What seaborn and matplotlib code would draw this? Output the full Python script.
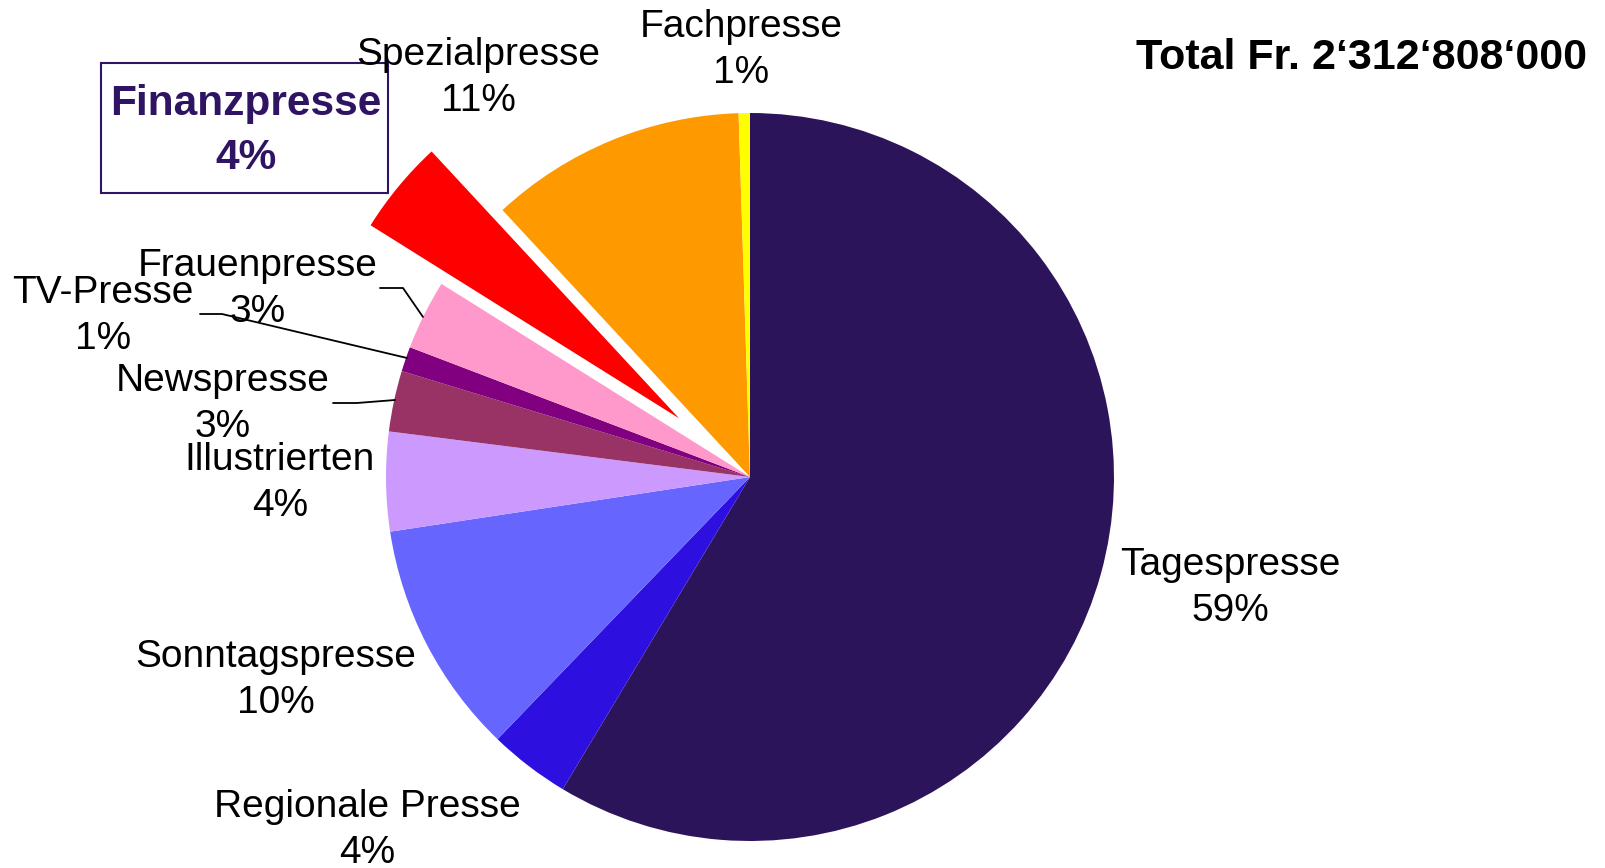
import matplotlib
matplotlib.use('Agg')
import matplotlib.pyplot as plt
import seaborn as sns
from matplotlib.patches import Rectangle

# Data (clockwise from 12 o'clock)
categories = ['Tagespresse', 'Regionale Presse', 'Sonntagspresse', 'Illustrierten',
              'Newspresse', 'TV-Presse', 'Frauenpresse', 'Finanzpresse',
              'Spezialpresse', 'Fachpresse']
shares = [58.6, 3.6, 10.4, 4.4, 2.7, 1.1, 3.1, 4.2, 11.4, 0.5]
pct_labels = ['59%', '4%', '10%', '4%', '3%', '1%', '3%', '4%', '11%', '1%']
colors = ['#2C145A', '#2D10E0', '#6666FF', '#CC99FF', '#993366',
          '#800080', '#FF99CC', '#FF0000', '#FF9900', '#FFFF00']
total_text = 'Total Fr. 2\u2018312\u2018808\u2018000'

sns.set_theme(style='white')
plt.rcParams['font.family'] = ['Liberation Sans', 'DejaVu Sans']

W, H = 1605, 868
fig = plt.figure(figsize=(W / 100, H / 100), dpi=100)
ax = fig.add_axes([0, 0, 1, 1])

def Y(y):
    # image pixel row -> data y
    return H - y

# explode is in data units (pixels here)
explode = [92 if c == 'Finanzpresse' else 0 for c in categories]
ax.pie(shares, colors=colors, startangle=90, counterclock=False,
       explode=explode, center=(750, Y(477)), radius=364,
       wedgeprops=dict(linewidth=0, edgecolor='none'), frame=True)
ax.set_xlim(0, W)
ax.set_ylim(0, H)
ax.set_aspect('equal')
ax.axis('off')

fs = 28
# label positions (image pixels, block centre)
pos = {
    'Tagespresse': (1230, 588),
    'Regionale Presse': (367, 830),
    'Sonntagspresse': (276, 680),
    'Illustrierten': (280, 483),
    'Newspresse': (223, 404),
    'TV-Presse': (103, 316),
    'Frauenpresse': (258, 289),
    'Spezialpresse': (478, 78),
    'Fachpresse': (741, 50),
}
for cat, pct in zip(categories, pct_labels):
    if cat == 'Finanzpresse':
        continue
    x, y = pos[cat]
    ax.text(x, Y(y), f'{cat}\n{pct}', ha='center', va='center',
            fontsize=fs, color='black', linespacing=1.38)

# highlighted Finanzpresse label with box
fin_pct = pct_labels[categories.index('Finanzpresse')]
ax.add_patch(Rectangle((101, Y(193)), 287, 130, fill=False,
                       edgecolor='#2E1463', linewidth=1.5))
ax.text(246, Y(131), f'Finanzpresse\n{fin_pct}', ha='center', va='center',
        fontsize=30.5, fontweight='bold', color='#2E1463', linespacing=1.45)

# leader lines
ax.plot([380, 403, 423], [Y(288), Y(288), Y(317)], color='black', lw=1.3)
ax.plot([200, 222, 407], [Y(314), Y(314), Y(358)], color='black', lw=1.3)
ax.plot([333, 357, 395], [Y(403), Y(403), Y(400)], color='black', lw=1.3)

ax.text(1587, Y(58), total_text, ha='right', va='center',
        fontsize=31, fontweight='bold', color='black')

fig.savefig('out.png', dpi=100)
